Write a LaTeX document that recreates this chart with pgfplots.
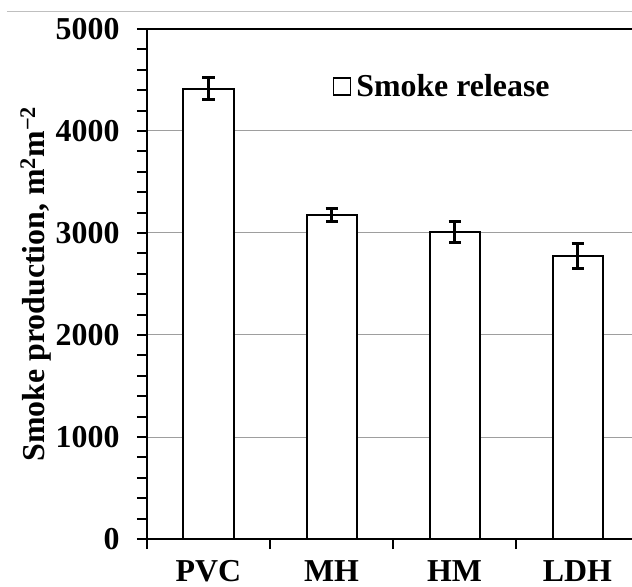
\documentclass[border=0pt]{standalone}
\usepackage{pgfplots}
\pgfplotsset{compat=1.18}
\usepackage{fontspec}
\setmainfont{Liberation Serif}
\begin{document}
\begin{tikzpicture}
\useasboundingbox (-147bp,-48bp) rectangle (485bp,539bp);
\begin{axis}[
  at={(0,0)}, anchor=south west,
  scale only axis,
  width=485bp, height=510bp,
  xmin=-0.5, xmax=3.443,
  ymin=0, ymax=5000,
  axis x line*=bottom, axis y line*=left,
  axis line style={line width=2.5bp},
  ytick={0,1000,2000,3000,4000,5000},
  minor y tick num=4,
  xtick={0,1,2,3},
  xticklabels={PVC,MH,HM,LDH},
  minor xtick={-0.5,0.5,1.5,2.5},
  major x tick style={draw=none},
  tick align=outside,
  major tick length=10bp, minor tick length=10bp,
  every tick/.style={line width=2bp, black},
  minor tick style={line width=2bp, black},
  ymajorgrids,
  grid style={black!38, line width=1bp},
  /pgf/number format/assume math mode=true,
  /pgf/number format/1000 sep={},
  tick label style={font=\bfseries\fontsize{32}{38}\selectfont},
  yticklabel style={xshift=-14bp},
  xticklabel style={yshift=-10bp, inner sep=1bp},
  ylabel={Smoke production, m\textsuperscript{2}m\textsuperscript{−2}},
  ylabel style={font=\bfseries\fontsize{32}{38}\selectfont, yshift=-2bp},
  legend style={draw=none, fill=none, at={(rel axis cs:0.376,0.888)}, anchor=west,
    font=\bfseries\fontsize{32}{38}\selectfont},
  legend image code/.code={\draw[line width=1.5bp, fill=white] (0bp,-9bp) rectangle (17bp,8bp); \path (20bp,0bp);},
]
\addplot[ybar, bar width=50bp, fill=white, draw=black, line width=2bp,
  error bars/.cd, y dir=both, y explicit,
  error bar style={line width=3bp, black},
  error mark options={rotate=90, mark size=6bp, line width=3bp, black}]
  table[x=x, y=y, y error=e] {
  x y e
  0 4415 105
  1 3180 65
  2 3010 100
  3 2775 125
  };
\addlegendentry{Smoke release}
\draw[line width=2.5bp] ([xshift=-10bp]rel axis cs:0,1) -- (rel axis cs:1,1);
\end{axis}
\draw[black!25, line width=1bp] (-140bp,527bp) -- (485bp,527bp);
\end{tikzpicture}
\end{document}
